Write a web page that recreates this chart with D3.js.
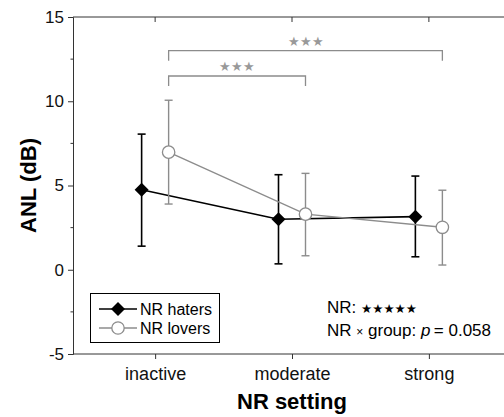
<!DOCTYPE html>
<html>
<head>
<meta charset="utf-8">
<script src="https://cdn.jsdelivr.net/npm/d3@7"></script>
<style>
  body { margin: 0; background: #fff; }
  text { font-family: "Liberation Sans", Arial, sans-serif; }
</style>
</head>
<body>
<div id="chart"></div>
<script>
// data
var settings = ["inactive", "moderate", "strong"];
var hatersMean = [4.75, 3.0, 3.15];
var hatersLow  = [1.4, 0.35, 0.77];
var hatersHigh = [8.05, 5.64, 5.56];
var loversMean = [6.98, 3.3, 2.52];
var loversLow  = [3.9, 0.83, 0.28];
var loversHigh = [10.06, 5.72, 4.72];
var yMajor = [-5, 0, 5, 10, 15];
var yMinor = [-2.5, 2.5, 7.5, 12.5];
// significance brackets (lovers): from, to, height, stars
var brackets = [
  {from: 0, to: 2, y: 13.0, stars: 3},
  {from: 0, to: 1, y: 11.5, stars: 3}
];

var W = 504, H = 417;
var svg = d3.select("#chart").append("svg")
    .attr("width", W).attr("height", H);

var x = d3.scalePoint().domain(settings).range([73, 511]).padding(0.6);
var y = d3.scaleLinear().domain([-5, 15]).range([354, 17]);
var off = 13.5;
var axisCol = "#333", grey = "#8c8c8c";
var star = "\u2605";

// frame
svg.append("line").attr("x1", 73).attr("x2", 511).attr("y1", y(15)).attr("y2", y(15))
    .attr("stroke", axisCol).attr("stroke-width", 1);
svg.append("line").attr("x1", 73).attr("x2", 511).attr("y1", y(-5)).attr("y2", y(-5))
    .attr("stroke", axisCol).attr("stroke-width", 1);

// y axis
var yAxis = svg.append("g").attr("transform", "translate(73,0)")
    .call(d3.axisLeft(y).tickValues(yMajor).tickSize(5).tickPadding(4)
      .tickFormat(d => String(d)));
yAxis.select(".domain").attr("stroke", axisCol);
yAxis.selectAll(".tick line").attr("stroke", axisCol);
yAxis.selectAll("text").attr("font-size", 17).attr("fill", "#111")
    .attr("font-family", "Liberation Sans, Arial, sans-serif");
svg.append("g").selectAll("line").data(yMinor).join("line")
    .attr("x1", 70.5).attr("x2", 73).attr("y1", d => y(d)).attr("y2", d => y(d))
    .attr("stroke", axisCol);

// x axis (bottom)
var xAxis = svg.append("g").attr("transform", "translate(0," + y(-5) + ")")
    .call(d3.axisBottom(x).tickSize(5).tickPadding(8));
xAxis.select(".domain").remove();
xAxis.selectAll(".tick line").attr("stroke", axisCol);
xAxis.selectAll("text").attr("font-size", 18).attr("fill", "#111")
    .attr("font-family", "Liberation Sans, Arial, sans-serif");
// top ticks (inward)
svg.append("g").selectAll("line").data(settings).join("line")
    .attr("x1", d => x(d)).attr("x2", d => x(d))
    .attr("y1", y(15)).attr("y2", y(15) + 5).attr("stroke", axisCol);

// axis titles
svg.append("text").attr("x", 292).attr("y", 409).attr("text-anchor", "middle")
    .attr("font-size", 22).attr("font-weight", "bold").text("NR setting");
svg.append("text").attr("transform", "translate(36," + y(5) + ") rotate(-90)")
    .attr("text-anchor", "middle").attr("font-size", 22).attr("font-weight", "bold")
    .text("ANL (dB)");

// brackets
brackets.forEach(function(b) {
  var x1 = x(settings[b.from]) + off, x2 = x(settings[b.to]) + off;
  svg.append("path")
    .attr("d", "M" + x1 + "," + (y(b.y) + 10) + "V" + y(b.y) + "H" + x2 + "V" + (y(b.y) + 10))
    .attr("fill", "none").attr("stroke", grey).attr("stroke-width", 1.3);
  svg.append("text").attr("x", (x1 + x2) / 2).attr("y", y(b.y) - 5)
    .attr("text-anchor", "middle").attr("font-size", 12.5).attr("fill", "#999")
    .attr("font-family", "DejaVu Sans").attr("letter-spacing", 0)
    .text(star.repeat(b.stars));
});

function drawSeries(mean, low, high, dx, col, width, shape) {
  var g = svg.append("g");
  var pts = settings.map((s, i) => ({x: x(s) + dx, m: mean[i], lo: low[i], hi: high[i]}));
  g.append("path").datum(pts)
    .attr("d", d3.line().x(d => d.x).y(d => y(d.m)))
    .attr("fill", "none").attr("stroke", col).attr("stroke-width", width);
  var eb = g.selectAll(".eb").data(pts).join("g");
  eb.append("line").attr("x1", d => d.x).attr("x2", d => d.x)
    .attr("y1", d => y(d.lo)).attr("y2", d => y(d.hi)).attr("stroke", col).attr("stroke-width", width);
  eb.append("line").attr("x1", d => d.x - 4).attr("x2", d => d.x + 4)
    .attr("y1", d => y(d.hi)).attr("y2", d => y(d.hi)).attr("stroke", col).attr("stroke-width", width);
  eb.append("line").attr("x1", d => d.x - 4).attr("x2", d => d.x + 4)
    .attr("y1", d => y(d.lo)).attr("y2", d => y(d.lo)).attr("stroke", col).attr("stroke-width", width);
  if (shape === "diamond") {
    g.selectAll(".mk").data(pts).join("path")
      .attr("transform", d => "translate(" + d.x + "," + y(d.m) + ")")
      .attr("d", "M0,-7L7,0L0,7L-7,0Z").attr("fill", "#000");
  } else {
    g.selectAll(".mk").data(pts).join("circle")
      .attr("cx", d => d.x).attr("cy", d => y(d.m)).attr("r", 6.2)
      .attr("fill", "#fff").attr("stroke", col).attr("stroke-width", 1.3);
  }
}
drawSeries(hatersMean, hatersLow, hatersHigh, -off, "#000", 1.6, "diamond");
drawSeries(loversMean, loversLow, loversHigh, off, grey, 1.4, "circle");

// legend
var lg = svg.append("g");
lg.append("rect").attr("x", 90.5).attr("y", 293.5).attr("width", 129).attr("height", 49)
  .attr("fill", "#fff").attr("stroke", "#000");
lg.append("line").attr("x1", 99).attr("x2", 137).attr("y1", 309).attr("y2", 309)
  .attr("stroke", "#000").attr("stroke-width", 1.6);
lg.append("path").attr("transform", "translate(118,309)").attr("d", "M0,-7L7,0L0,7L-7,0Z");
lg.append("line").attr("x1", 99).attr("x2", 137).attr("y1", 328).attr("y2", 328)
  .attr("stroke", grey).attr("stroke-width", 1.4);
lg.append("circle").attr("cx", 118).attr("cy", 328).attr("r", 6.2)
  .attr("fill", "#fff").attr("stroke", grey).attr("stroke-width", 1.3);
lg.append("text").attr("x", 140).attr("y", 315).attr("font-size", 16).text("NR haters");
lg.append("text").attr("x", 140).attr("y", 334).attr("font-size", 16).text("NR lovers");

// stats annotation
var t1 = svg.append("text").attr("x", 327).attr("y", 313).attr("font-size", 17);
t1.append("tspan").text("NR: ");
t1.append("tspan").attr("font-size", 12.5).attr("font-family", "DejaVu Sans")
  .text(star.repeat(5));
var t2 = svg.append("text").attr("x", 327).attr("y", 336).attr("font-size", 17);
t2.append("tspan").text("NR ");
t2.append("tspan").attr("font-size", 12).text("\u00d7");
t2.append("tspan").text(" group: ");
t2.append("tspan").attr("font-style", "italic").text("p");
t2.append("tspan").text("\u2009= 0.058");
</script>
</body>
</html>
